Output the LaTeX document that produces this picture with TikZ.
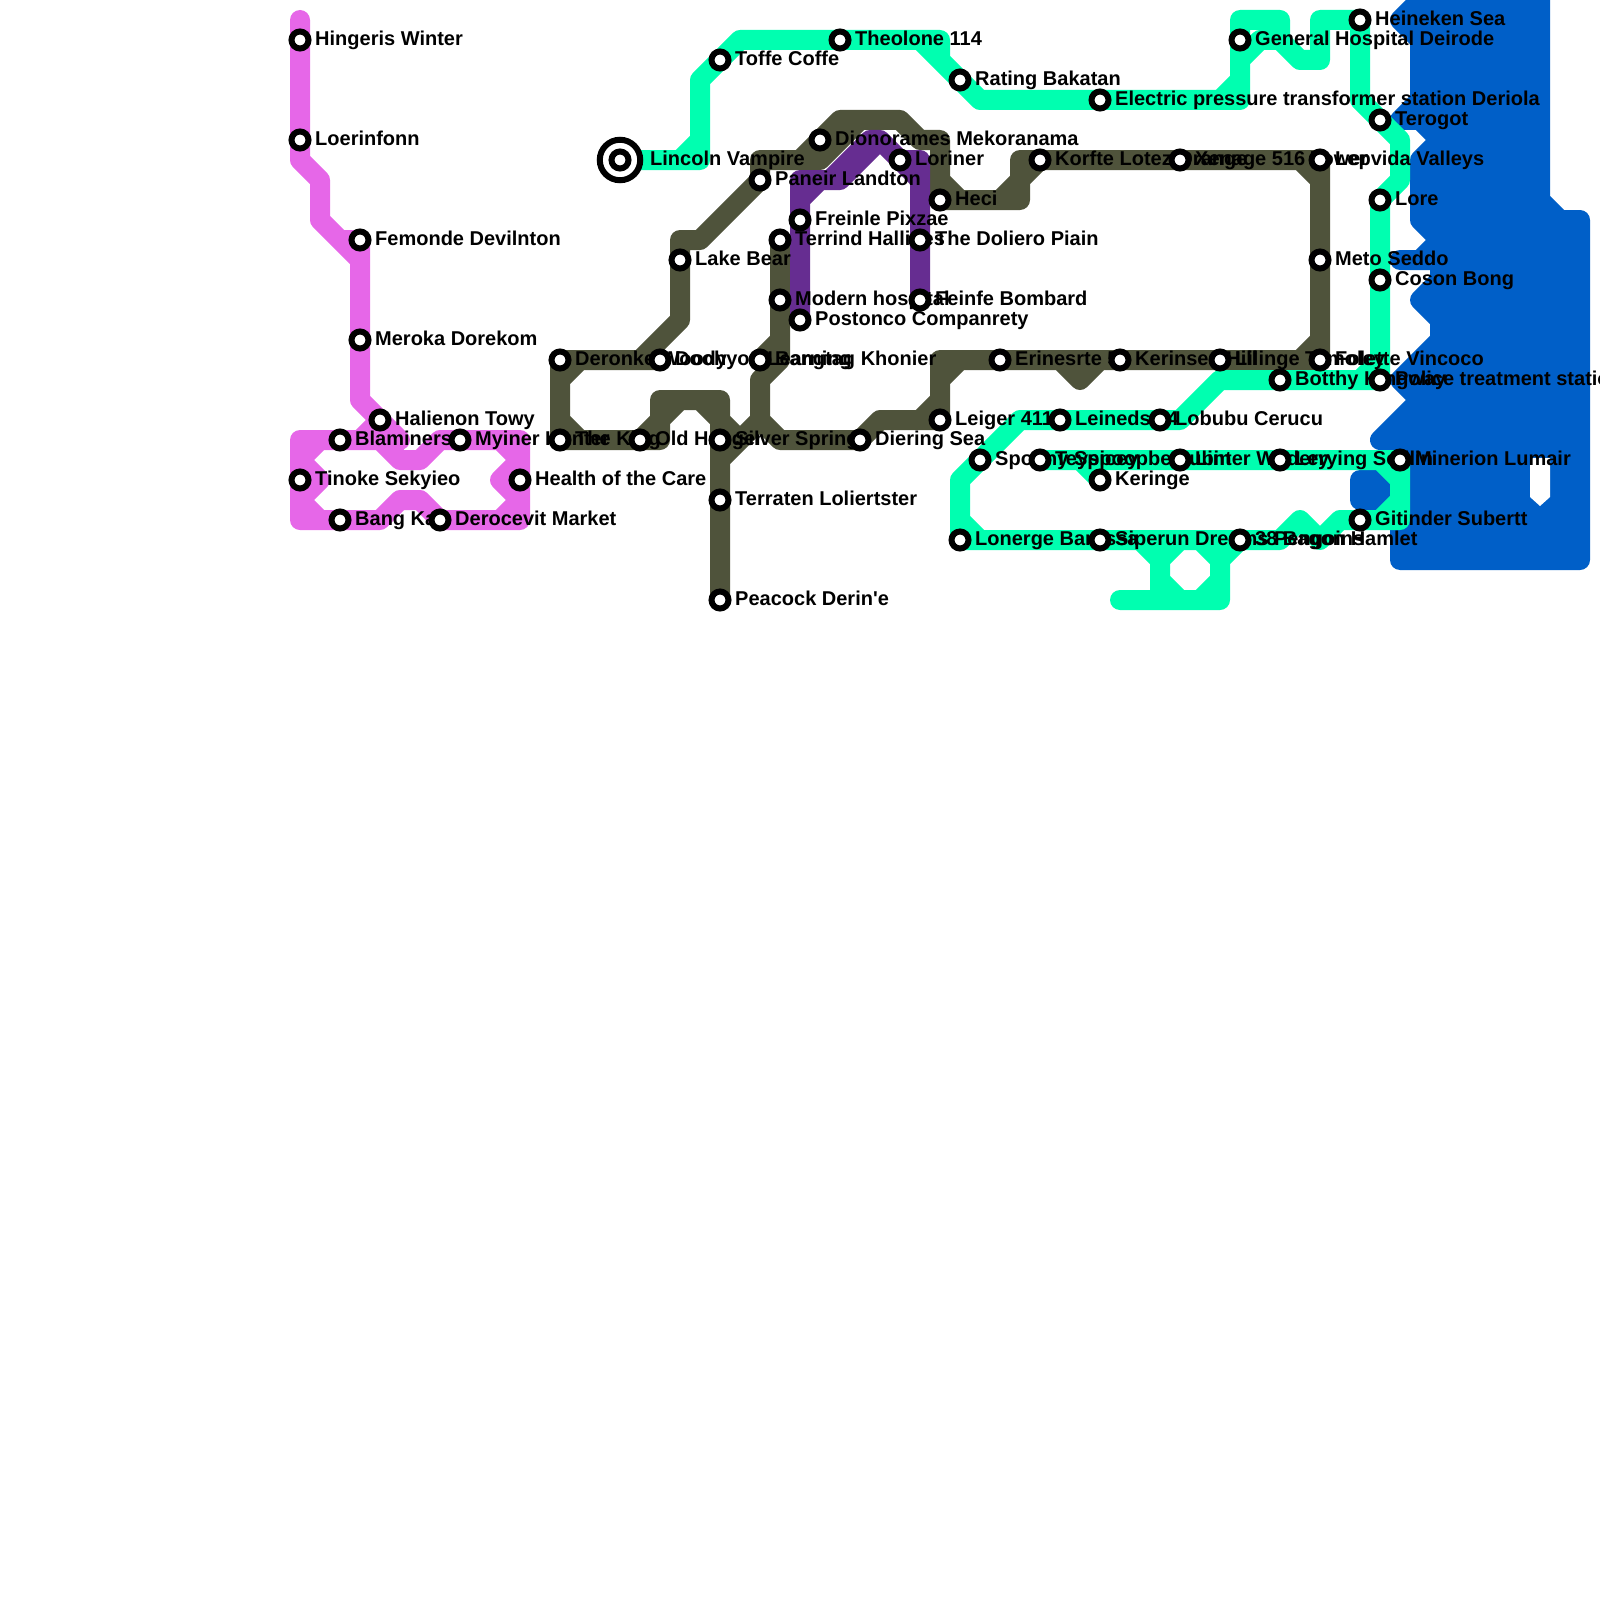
\documentclass[tikz,border=0pt]{standalone}
\usepackage{fontspec}
\newfontfamily\labfont{Liberation Sans}
\definecolor{pinkline}{HTML}{E667E8}
\definecolor{greenline}{HTML}{00FFB0}
\definecolor{oliveline}{HTML}{4F533B}
\definecolor{purpleline}{HTML}{662D91}
\definecolor{blueline}{HTML}{005FC8}
\tikzset{
  metro/.style={line width=20pt,line cap=round,line join=round},
  lab/.style={anchor=base west,inner sep=0pt,font=\labfont\bfseries\fontsize{20}{24}\selectfont,text=black},
  stationdot/.style={circle,draw=black,fill=white,line width=6pt,inner sep=0pt,minimum size=17pt,outer sep=0pt},
  bigdot/.style={circle,draw=black,fill=white,line width=6pt,inner sep=0pt,minimum size=40.5pt,outer sep=0pt}
}
% station: name, x, y, text
\newcommand{\stlabel}[4]{\node[lab] (#1t) at (#2+15,#3+5.7) {#4};}
\newcommand{\stdot}[3]{\node[stationdot] (#1) at (#2,#3) {};}
\begin{document}
\begin{tikzpicture}[x=1pt,y=-1pt]
\useasboundingbox (0,0) rectangle (1600,1600);
% pink line
\draw[metro,pinkline] (300,20)--(300,160)--(320,180)--(320,220)--(360,260)--(360,400)--(400,440)
  (340,240)--(360,240)--(360,260)
  (360,440)--(380,420)
  (300,440)--(360,440)--(380,440)--(400,460)--(420,460)--(440,440)--(520,440)--(520,520)--(440,520)--(420,500)--(400,500)--(380,520)--(300,520)--cycle
  (300,460)--(320,440)
  (300,460)--(320,480)--(300,500)--(320,520)
  (500,440)--(520,460)--(500,480)--(520,500)--(500,520);
% olive line
\draw[metro,oliveline] (660,360)--(560,360)--(560,440)--(660,440)--(660,400)--(720,400)--(720,600)
  (640,360)--(680,320)--(680,240)--(700,240)--(760,180)--(760,160)--(800,160)--(840,120)--(900,120)--(920,140)--(940,140)--(940,200)--(1020,200)--(1020,160)--(1320,160)--(1320,360)--(940,360)--(940,420)--(880,420)--(860,440)--(780,440)--(760,420)--(760,380)--(780,360)--(780,240)
  (800,160)--(820,160)--(860,120)
  (560,380)--(580,360)
  (560,420)--(580,440)
  (640,440)--(660,420)--(680,400)
  (700,400)--(720,420)--(740,440)
  (720,460)--(760,420)
  (760,360)--(780,340)
  (1060,360)--(1080,380)--(1100,360)
  (940,380)--(960,360)
  (920,420)--(940,400)
  (1300,360)--(1320,340)
  (1300,160)--(1320,180)
  (1020,180)--(1040,160)
  (1000,200)--(1020,180)
  (940,180)--(960,200);
% purple line
\draw[metro,purpleline] (800,320)--(800,180)--(840,180)--(880,140)--(900,160)--(920,160)--(920,300)
  (800,200)--(820,180)
  (830,180)--(870,140)--(880,140)
  (900,160)--(920,180);
% blue line
\fill[blueline,draw=blueline,line width=20pt,line join=round]
  (1420,-20)--(1420,0)--(1400,20)--(1420,40)--(1420,100)--(1400,120)--(1420,120)--(1440,140)--(1420,160)--(1420,220)--(1440,240)--(1420,260)--(1400,260)--(1440,260)--(1440,280)--(1420,300)--(1440,320)--(1440,340)--(1400,380)--(1420,400)--(1380,440)--(1400,440)--(1400,560)--(1580,560)--(1580,220)--(1560,220)--(1540,200)--(1540,-20)--cycle;
\fill[blueline,draw=blueline,line width=20pt,line join=round]
  (1360,480)--(1400,480)--(1400,500)--(1360,500)--cycle;
\fill[white] (1530,458)--(1550,458)--(1550,497)--(1540,506)--(1530,497)--cycle;
% green line
\draw[metro,greenline] (620,160)--(700,160)--(700,80)--(740,40)--(940,40)--(940,60)--(980,100)--(1240,100)--(1240,20)--(1280,20)--(1280,40)--(1300,60)--(1320,60)--(1320,20)--(1360,20)--(1360,100)--(1400,140)--(1400,180)--(1380,200)--(1380,380)--(1220,380)--(1180,420)--(1020,420)--(960,480)--(960,540)--(1280,540)--(1300,520)--(1320,540)--(1340,520)--(1400,520)--(1400,460)--(1040,460)
  (680,160)--(700,140)
  (920,40)--(940,60)
  (1220,100)--(1240,80)
  (1240,60)--(1260,40)--(1280,40)
  (1360,380)--(1380,360)
  (1080,460)--(1100,480)
  (960,520)--(980,540)
  (1380,460)--(1400,480)
  (1400,500)--(1380,520)
  (1140,540)--(1160,560)--(1160,600)
  (1120,600)--(1220,600)--(1220,560)--(1240,540)
  (1160,560)--(1180,540)
  (1200,540)--(1220,560)
  (1220,580)--(1200,600)
  (1160,580)--(1180,600);
% labels
\stlabel{hw}{300}{40}{Hingeris Winter}
\stlabel{lo}{300}{140}{Loerinfonn}
\stlabel{fd}{360}{240}{Femonde Devilnton}
\stlabel{md}{360}{340}{Meroka Dorekom}
\stlabel{ht}{380}{420}{Halienon Towy}
\stlabel{bl}{340}{440}{Blaminers}
\stlabel{mh}{460}{440}{Myiner Hunter}
\stlabel{ts}{300}{480}{Tinoke Sekyieo}
\stlabel{hc}{520}{480}{Health of the Care}
\stlabel{bk}{340}{520}{Bang Kan}
\stlabel{dm}{440}{520}{Derocevit Market}
\node[lab] (lvt) at (650,165.5) {Lincoln Vampire};
\stlabel{tc}{720}{60}{Toffe Coffe}
\stlabel{th}{840}{40}{Theolone 114}
\stlabel{rb}{960}{80}{Rating Bakatan}
\stlabel{ep}{1100}{100}{Electric pressure transformer station Deriola}
\stlabel{di}{820}{140}{Dionorames Mekoranama}
\stlabel{pl}{760}{180}{Paneir Landton}
\stlabel{lr}{900}{160}{Loriner}
\stlabel{he}{940}{200}{Heci}
\stlabel{fp}{800}{220}{Freinle Pixzae}
\stlabel{te}{780}{240}{Terrind Hallines}
\stlabel{dp}{920}{240}{The Doliero Piain}
\stlabel{lb}{680}{260}{Lake Bear}
\stlabel{mo}{780}{300}{Modern hospital}
\stlabel{po}{800}{320}{Postonco Companrety}
\stlabel{fb}{920}{300}{Feinfe Bombard}
\stlabel{dw}{560}{360}{Deronke Woody}
\stlabel{dl}{660}{360}{Doohyon Learning}
\stlabel{bg}{760}{360}{Bangtag Khonier}
\stlabel{tk}{560}{440}{The King}
\stlabel{oh}{640}{440}{Old Hanger}
\stlabel{ss}{720}{440}{Silver Spring}
\stlabel{ds}{860}{440}{Diering Sea}
\stlabel{tl}{720}{500}{Terraten Loliertster}
\stlabel{pd}{720}{600}{Peacock Derin'e}
\stlabel{le}{940}{420}{Leiger 411}
\stlabel{li}{1060}{420}{Leineds 14}
\stlabel{lc}{1160}{420}{Lobubu Cerucu}
\stlabel{sp}{980}{460}{Spoony Spicey}
\stlabel{tp}{1040}{460}{Teyspoopbe Lubin}
\stlabel{lw}{1180}{460}{Linter Wodery}
\stlabel{ls}{1280}{460}{Lerying Sedlin}
\stlabel{ml}{1400}{460}{Minerion Lumair}
\stlabel{ke}{1100}{480}{Keringe}
\stlabel{lg}{960}{540}{Lonerge Barossa}
\stlabel{sd}{1100}{540}{Siperun Dreams Pengoins}
\stlabel{dh}{1240}{540}{38 Bagon Hamlet}
\stlabel{gs}{1360}{520}{Gitinder Subertt}
\stlabel{er}{1000}{360}{Erinesrte 55}
\stlabel{kh}{1120}{360}{Kerinsen Hill}
\stlabel{lt}{1220}{360}{Lilinge Tamoley}
\stlabel{fv}{1320}{360}{Folette Vincoco}
\stlabel{bo}{1280}{380}{Botthy Kingway}
\stlabel{pt}{1380}{380}{Police treatment station}
\stlabel{kl}{1040}{160}{Korfte Lotez Orange}
\stlabel{xe}{1180}{160}{Xenage 516 Tower}
\stlabel{lv}{1320}{160}{Lepvida Valleys}
\stlabel{gh}{1240}{40}{General Hospital Deirode}
\stlabel{hs}{1360}{20}{Heineken Sea}
\stlabel{tg}{1380}{120}{Terogot}
\stlabel{lre}{1380}{200}{Lore}
\stlabel{ms}{1320}{260}{Meto Seddo}
\stlabel{cb}{1380}{280}{Coson Bong}
% stations
\node[bigdot] (lvo) at (620,160) {};
\stdot{lv0}{620}{160}
\foreach \n/\x/\y in {hw0/300/40,lo0/300/140,fd0/360/240,md0/360/340,ht0/380/420,bl0/340/440,mh0/460/440,ts0/300/480,hc0/520/480,bk0/340/520,dm0/440/520,tc0/720/60,th0/840/40,rb0/960/80,ep0/1100/100,di0/820/140,pl0/760/180,lr0/900/160,he0/940/200,fp0/800/220,te0/780/240,dp0/920/240,lb0/680/260,mo0/780/300,po0/800/320,fb0/920/300,dw0/560/360,dl0/660/360,bg0/760/360,tk0/560/440,oh0/640/440,ss0/720/440,ds0/860/440,tl0/720/500,pd0/720/600,le0/940/420,li0/1060/420,lc0/1160/420,sp0/980/460,tp0/1040/460,lw0/1180/460,ls0/1280/460,ml0/1400/460,ke0/1100/480,lg0/960/540,sd0/1100/540,dh0/1240/540,gs0/1360/520,er0/1000/360,kh0/1120/360,lt0/1220/360,fv0/1320/360,bo0/1280/380,pt0/1380/380,kl0/1040/160,xe0/1180/160,lvv0/1320/160,gh0/1240/40,hs0/1360/20,tg0/1380/120,lre0/1380/200,ms0/1320/260,cb0/1380/280}
  {\node[stationdot] (\n) at (\x,\y) {};}
\end{tikzpicture}
\end{document}
